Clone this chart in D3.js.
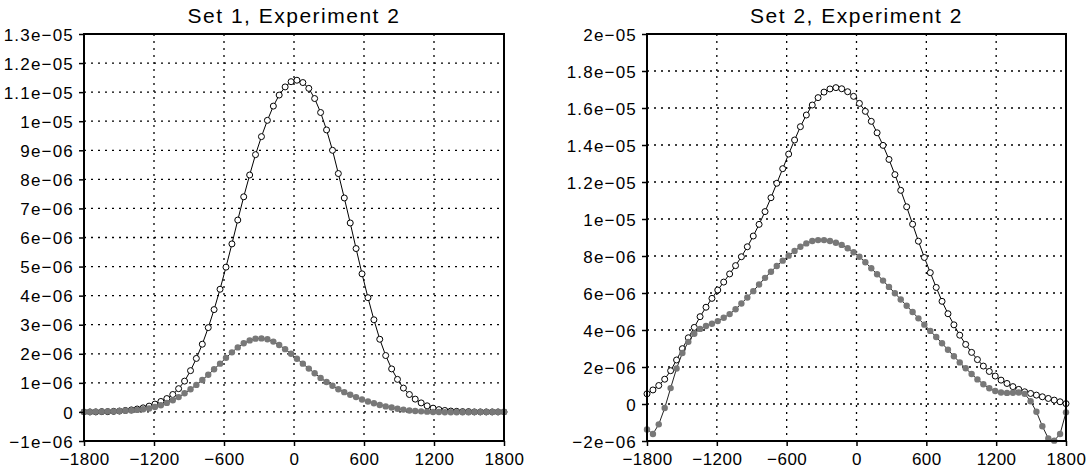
<!DOCTYPE html>
<html>
<head>
<meta charset="utf-8">
<script src="https://cdn.jsdelivr.net/npm/d3@7"></script>
<style>
  html, body { margin: 0; padding: 0; background: #fff; }
  svg { display: block; font-family: 'Liberation Sans', Arial, sans-serif; }
</style>
</head>
<body>
<div id="chart"></div>
<script>
// x grid shared by every series (72 points, -1800..1800)
const xValues = [
  -1800, -1749, -1699, -1648, -1597, -1546, -1496, -1445, -1394, -1344,
  -1293, -1242, -1192, -1141, -1090, -1039, -989, -938, -887, -837,
  -786, -735, -685, -634, -583, -532, -482, -431, -380, -330,
  -279, -228, -177, -127, -76, -25, 25, 76, 127, 177,
  228, 279, 330, 380, 431, 482, 532, 583, 634, 685,
  735, 786, 837, 887, 938, 989, 1039, 1090, 1141, 1192,
  1242, 1293, 1344, 1394, 1445, 1496, 1546, 1597, 1648, 1699,
  1749, 1800,
];

// values in units of 1e-06
const set1Open = [
  0.00, 0.00, 0.00, 0.01, 0.01, 0.02, 0.03, 0.05, 0.07, 0.10,
  0.14, 0.20, 0.27, 0.36, 0.46, 0.60, 0.80, 1.06, 1.42, 1.84,
  2.33, 2.90, 3.52, 4.22, 4.98, 5.78, 6.60, 7.40, 8.15, 8.85,
  9.47, 10.03, 10.52, 10.90, 11.18, 11.36, 11.41, 11.33, 11.13, 10.78,
  10.30, 9.70, 9.00, 8.20, 7.36, 6.50, 5.62, 4.75, 3.93, 3.17,
  2.50, 1.94, 1.48, 1.12, 0.82, 0.60, 0.44, 0.31, 0.21, 0.13,
  0.08, 0.05, 0.03, 0.02, 0.01, 0.01, 0.00, 0.00, 0.00, 0.00,
  0.00, 0.00,
];

const set1Gray = [
  0.00, 0.00, 0.01, 0.01, 0.02, 0.02, 0.03, 0.04, 0.05, 0.07,
  0.09, 0.12, 0.17, 0.23, 0.31, 0.40, 0.51, 0.64, 0.78, 0.93,
  1.10, 1.28, 1.47, 1.66, 1.86, 2.05, 2.22, 2.36, 2.46, 2.52,
  2.53, 2.50, 2.42, 2.30, 2.16, 2.00, 1.83, 1.66, 1.49, 1.33,
  1.17, 1.03, 0.90, 0.78, 0.68, 0.59, 0.51, 0.43, 0.36, 0.30,
  0.24, 0.19, 0.15, 0.11, 0.08, 0.05, 0.03, 0.02, 0.01, 0.00,
  0.00, -0.01, -0.01, -0.01, -0.01, -0.01, 0.00, 0.00, 0.00, 0.00,
  0.00, 0.00,
];

const set2Open = [
  0.55, 0.76, 1.00, 1.34, 1.80, 2.38, 2.99, 3.58, 4.14, 4.72,
  5.23, 5.71, 6.16, 6.59, 7.03, 7.48, 7.96, 8.50, 9.08, 9.71,
  10.40, 11.15, 11.93, 12.72, 13.51, 14.27, 14.99, 15.62, 16.16, 16.56,
  16.86, 17.03, 17.10, 17.04, 16.88, 16.63, 16.25, 15.82, 15.28, 14.66,
  13.98, 13.22, 12.40, 11.55, 10.66, 9.72, 8.80, 7.92, 7.10, 6.30,
  5.55, 4.88, 4.28, 3.72, 3.22, 2.79, 2.40, 2.05, 1.76, 1.51,
  1.29, 1.11, 0.94, 0.79, 0.66, 0.57, 0.48, 0.39, 0.30, 0.21,
  0.12, 0.02,
];

const set2Gray = [
  -1.38, -1.62, -1.10, -0.22, 0.86, 1.92, 2.76, 3.36, 3.80, 4.06,
  4.22, 4.34, 4.48, 4.66, 4.86, 5.12, 5.43, 5.76, 6.10, 6.46,
  6.82, 7.15, 7.46, 7.75, 8.02, 8.27, 8.50, 8.68, 8.81, 8.86,
  8.86, 8.81, 8.72, 8.60, 8.42, 8.20, 7.96, 7.66, 7.34, 7.01,
  6.67, 6.33, 5.99, 5.65, 5.31, 4.97, 4.63, 4.29, 3.95, 3.62,
  3.28, 2.93, 2.58, 2.25, 1.93, 1.62, 1.33, 1.07, 0.85, 0.70,
  0.62, 0.60, 0.61, 0.62, 0.55, 0.15, -0.42, -1.20, -1.86, -1.98,
  -1.62, -0.45,
];

const xTicks = [-1800, -1200, -600, 0, 600, 1200, 1800];
const xTickLabels = ['\u22121800', '\u22121200', '\u2212600', '0', '600', '1200', '1800'];

const set1YTicks = [-1, 0, 1, 2, 3, 4, 5, 6, 7, 8, 9, 10, 11, 12, 13];
const set1YLabels = ['\u22121e\u221206', '0', '1e\u221206', '2e\u221206', '3e\u221206', '4e\u221206',
  '5e\u221206', '6e\u221206', '7e\u221206', '8e\u221206', '9e\u221206', '1e\u221205',
  '1.1e\u221205', '1.2e\u221205', '1.3e\u221205'];

const set2YTicks = [-2, 0, 2, 4, 6, 8, 10, 12, 14, 16, 18, 20];
const set2YLabels = ['\u22122e\u221206', '0', '2e\u221206', '4e\u221206', '6e\u221206', '8e\u221206',
  '1e\u221205', '1.2e\u221205', '1.4e\u221205', '1.6e\u221205', '1.8e\u221205', '2e\u221205'];

const WIDTH = 1090;
const HEIGHT = 470;
const GRAY = '#787878';

const svg = d3.select('#chart').append('svg')
  .attr('width', WIDTH)
  .attr('height', HEIGHT);

function drawPanel({ left, right, top, bottom, title, yTicks, yLabels, open, filled }) {
  const x = d3.scaleLinear().domain([xTicks[0], xTicks[xTicks.length - 1]]).range([left, right]);
  const y = d3.scaleLinear().domain([yTicks[0], yTicks[yTicks.length - 1]]).range([bottom, top]);
  const g = svg.append('g');

  // dotted grid on the inner ticks
  const grid = g.append('g')
    .attr('stroke', '#000')
    .attr('stroke-width', 1.3)
    .attr('stroke-dasharray', '2,5');
  grid.selectAll('.vgrid')
    .data(xTicks.slice(1, -1))
    .join('line')
    .attr('x1', (d) => x(d)).attr('x2', (d) => x(d))
    .attr('y1', top).attr('y2', bottom);
  grid.selectAll('.hgrid')
    .data(yTicks.slice(1, -1))
    .join('line')
    .attr('x1', left).attr('x2', right)
    .attr('y1', (d) => y(d)).attr('y2', (d) => y(d));

  const line = d3.line()
    .x((d, i) => x(xValues[i]))
    .y((d) => y(d));

  // open circles series
  g.append('path')
    .datum(open)
    .attr('fill', 'none')
    .attr('stroke', '#000')
    .attr('stroke-width', 1)
    .attr('d', line);
  g.append('g').selectAll('circle')
    .data(open)
    .join('circle')
    .attr('cx', (d, i) => x(xValues[i]))
    .attr('cy', (d) => y(d))
    .attr('r', 3)
    .attr('fill', '#fff')
    .attr('stroke', '#000')
    .attr('stroke-width', 1);

  // grey dots series
  g.append('path')
    .datum(filled)
    .attr('fill', 'none')
    .attr('stroke', '#222')
    .attr('stroke-width', 1)
    .attr('d', line);
  g.append('g').selectAll('circle')
    .data(filled)
    .join('circle')
    .attr('cx', (d, i) => x(xValues[i]))
    .attr('cy', (d) => y(d))
    .attr('r', 3.2)
    .attr('fill', GRAY);

  // axes
  const yAxis = g.append('g')
    .attr('transform', `translate(${left},0)`)
    .call(d3.axisLeft(y)
      .tickValues(yTicks)
      .tickFormat((d, i) => yLabels[i])
      .tickSize(5)
      .tickPadding(5));
  const xAxis = g.append('g')
    .attr('transform', `translate(0,${bottom})`)
    .call(d3.axisBottom(x)
      .tickValues(xTicks)
      .tickFormat((d, i) => xTickLabels[i])
      .tickSize(5)
      .tickPadding(7));

  [yAxis, xAxis].forEach((a) => {
    a.select('.domain').remove();
    a.selectAll('line').attr('stroke', '#000').attr('stroke-width', 1.5);
    a.selectAll('text')
      .attr('fill', '#000')
      .attr('font-size', '17px')
      .attr('letter-spacing', '0.5px');
  });
  yAxis.selectAll('text')
    .attr('dy', '0.36em')
    .attr('letter-spacing', '1.2px');

  // frame
  g.append('rect')
    .attr('x', left).attr('y', top)
    .attr('width', right - left).attr('height', bottom - top)
    .attr('fill', 'none')
    .attr('stroke', '#000')
    .attr('stroke-width', 2);

  g.append('text')
    .attr('x', (left + right) / 2)
    .attr('y', 23)
    .attr('text-anchor', 'middle')
    .attr('font-size', '21px')
    .attr('letter-spacing', '1.5px')
    .attr('fill', '#000')
    .text(title);
}

drawPanel({
  left: 84, right: 504, top: 34, bottom: 441,
  title: 'Set 1, Experiment 2',
  yTicks: set1YTicks, yLabels: set1YLabels,
  open: set1Open, filled: set1Gray,
});

drawPanel({
  left: 647, right: 1066, top: 34, bottom: 441,
  title: 'Set 2, Experiment 2',
  yTicks: set2YTicks, yLabels: set2YLabels,
  open: set2Open, filled: set2Gray,
});
</script>
</body>
</html>
